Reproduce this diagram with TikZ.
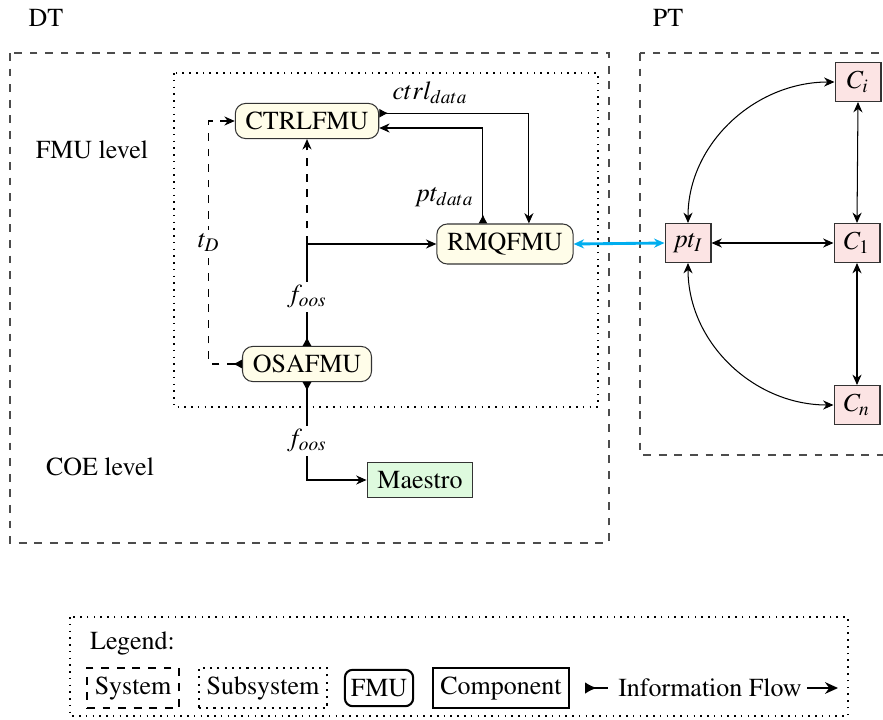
\documentclass[tikz,border=0pt]{standalone}
\usepackage[T1]{fontenc}
\usepackage{mathptmx}
\usepackage{tikz}
\usetikzlibrary{arrows.meta,positioning}

\definecolor{fmucol}{RGB}{255,253,233}
\definecolor{comcol}{RGB}{252,228,228}
\definecolor{coecol}{RGB}{222,250,222}
\definecolor{linkcol}{RGB}{0,174,239}

\tikzset{
  fmu/.style={draw=black!80, fill=fmucol, rounded corners=4pt, inner xsep=4pt, minimum height=13.3pt},
  comp/.style={draw=black!80, fill=comcol, inner xsep=3pt, minimum width=17.7pt, minimum height=15pt},
  system/.style={draw=black!70, dashed},
  subsystem/.style={draw=black, dotted, semithick},
  flow/.style={{Latex[reversed,length=3.5pt,width=3.5pt]}-{Stealth[length=4pt,width=3.5pt]}},
  both/.style={{Stealth[length=4pt,width=3.5pt]}-{Stealth[length=4pt,width=3.5pt]}},
  lbl/.style={fill=white, inner sep=1.5pt}
}

\begin{document}
\begin{tikzpicture}[x=0.385pt, y=0.385pt]
\useasboundingbox (0,0) rectangle (883,-720);

% System and subsystem frames
\draw[system] (10,-53) rectangle (609,-543);
\draw[system] (640,-53) rectangle (895,-455);
\draw[subsystem] (174,-73) rectangle (598,-407);
\node (dt) at (46,-18) {DT};
\node (pt) at (668,-18) {PT};
\node (fmulevel) at (92,-150) {FMU level};
\node (coelevel) at (100,-467) {COE level};

% FMUs
\node[fmu] (ctrl) at (307,-121) {CTRLFMU};
\node[fmu, minimum height=15.4pt] (rmq) at (505,-244) {RMQFMU};
\node[fmu] (osa) at (307,-364) {OSAFMU};
\node[draw=black!80, fill=coecol, inner xsep=4pt, minimum height=13.5pt] (mae) at (420,-480) {Maestro};
\coordinate (split) at (osa.north |- rmq.west);

% DT information flow
\draw[flow] ([yshift=3pt]ctrl.east) -| node[pos=0.17, above] {$ctrl_{data}$} ([xshift=9.2pt]rmq.north);
\draw[flow] ([xshift=-8.5pt]rmq.north) |- node[pos=0.14, left] {$pt_{data}$} ([yshift=-2.7pt]ctrl.east);
\draw[flow] (osa.north) |- node[pos=0.24, lbl] {$f_{oos}$} (rmq.west);
\draw[dashed, -{Stealth[length=4pt,width=3.5pt]}] (split) -- (ctrl.south);
\draw[flow, dashed] (osa.west) -- ++(-33,0) |- node[pos=0.25, lbl] {$t_D$} (ctrl.west);
\draw[flow] (osa.south) |- node[pos=0.3, lbl] {$f_{oos}$} (mae.west);

% PT components
\node[comp] (ptI) at (688,-243) {$pt_I$};
\node[comp] (c1) at (857,-243) {$C_1$};
\node[comp] (ci) at (858,-82) {$C_i$};
\node[comp] (cn) at (857,-405) {$C_n$};

\draw[both] (ptI.east) -- (c1.west);
\draw[both] (ci.south) -- (c1.north);
\draw[both] (c1.south) -- (cn.north);
\draw[both] (ptI.north) to[out=90, in=180] (ci.west);
\draw[both] (ptI.south) to[out=-90, in=180] (cn.west);

% DT <-> PT
\draw[both, linkcol, line width=1.1pt] (rmq.east) -- (ptI.west);

% Legend
\draw[subsystem] (70,-617) rectangle (848,-716);
\node[anchor=west] (legend) at (81,-643) {Legend:};
\node[draw, dashed, thick, inner xsep=3pt, minimum height=13.5pt] (lsys) at (133,-688) {System};
\node[draw, dotted, thick, inner xsep=3pt, minimum height=13.5pt] (lsub) at (263,-688) {Subsystem};
\node[draw, thick, rounded corners=3pt, inner xsep=2.3pt, minimum height=14pt] (lfmu) at (379,-688) {FMU};
\node[draw, thick, inner xsep=3pt, minimum height=14pt] (lcomp) at (501,-688) {Component};
\node (lflow) at (710,-688) {Information Flow};
\coordinate (ta) at (585,-688);
\coordinate (tb) at (608,-688);
\coordinate (ha) at (807,-688);
\coordinate (hb) at (838,-688);
\draw[semithick, {Latex[reversed,length=4.5pt,width=4.5pt]}-] (ta) -- (tb);
\draw[semithick, -{Stealth[length=5pt,width=4.5pt]}] (ha) -- (hb);

\end{tikzpicture}
\end{document}
